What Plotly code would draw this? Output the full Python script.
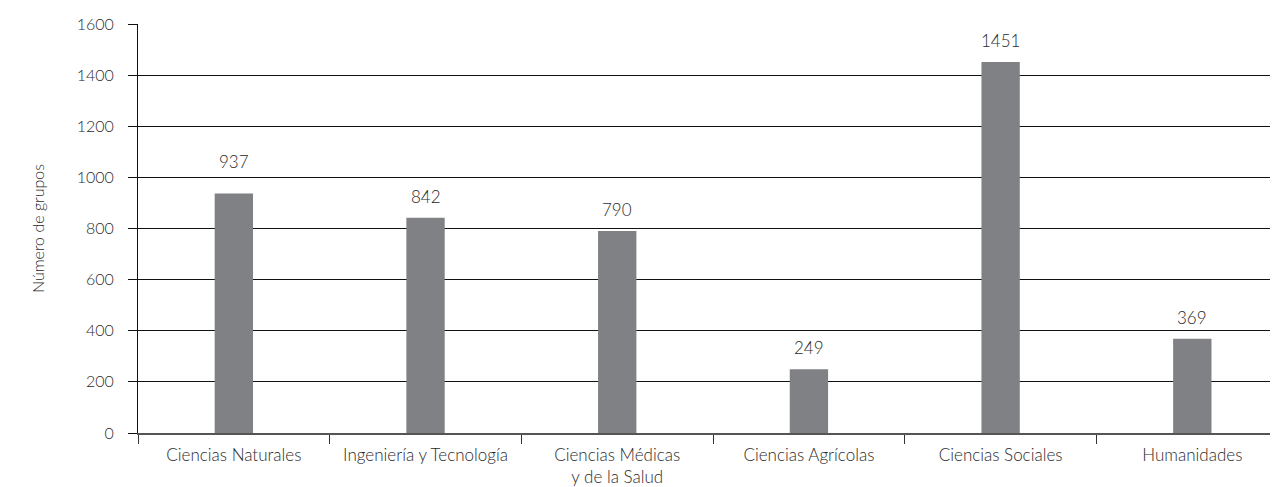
import plotly.graph_objects as go

categories = ["Ciencias Naturales", "Ingeniería y Tecnología", "Ciencias Médicas<br>y de la Salud",
              "Ciencias Agrícolas", "Ciencias Sociales", "Humanidades"]
values = [937, 842, 790, 249, 1451, 369]
y_ticks = [0, 200, 400, 600, 800, 1000, 1200, 1400, 1600]

font_family = "Lato"
text_color = "#2a2a2a"
fs = 17

W, H = 1270, 479
M = dict(l=130, r=0, t=16, b=54)
plot_h = H - M["t"] - M["b"]
units_per_px = (y_ticks[-1] - y_ticks[0]) / plot_h

fig = go.Figure(go.Bar(
    x=categories, y=values, width=0.2,
    marker=dict(color="#808184", line=dict(width=0)),
))

base_shift, label_h = 9, 17
for c, v in zip(categories, values):
    shift = base_shift
    lo, hi = v + shift * units_per_px, v + (shift + label_h) * units_per_px
    for g in y_ticks:
        if lo < g < hi:  # keep the value label clear of a gridline
            shift = (g - v) / units_per_px + 3
    fig.add_annotation(x=c, y=v, text=str(v), showarrow=False, yanchor="bottom",
                       yshift=shift, font=dict(family=font_family, size=fs, color=text_color, weight=300))

# page body adds an 8px offset, so the figure is sized/margined to compensate
fig.update_layout(
    width=W, height=H, margin=M,
    paper_bgcolor="white", plot_bgcolor="white",
    font=dict(family=font_family, size=fs, color=text_color, weight=300),
    showlegend=False,
)
fig.update_xaxes(
    type="category", range=[-0.5, 5.447], automargin=False,
    tickson="boundaries", ticks="outside", ticklen=9, tickcolor="#333", tickwidth=1,
    showline=True, linecolor="#555", linewidth=1.5,
    showgrid=False, ticklabelstandoff=6,
    tickfont=dict(size=fs, color=text_color, weight=300),
)
fig.update_yaxes(
    range=[0, 1600], tickvals=y_ticks, automargin=False,
    showgrid=True, gridcolor="#111", gridwidth=1,
    ticks="outside", ticklen=9, tickcolor="#111",
    showline=True, linecolor="#111", linewidth=1,
    zeroline=False, ticklabelstandoff=11,
    tickfont=dict(size=fs - 1, color=text_color, weight=300),
    title=dict(text="Número de grupos", standoff=28,
               font=dict(size=fs - 1, color=text_color, weight=300)),
)

fig.write_html("out.html")
